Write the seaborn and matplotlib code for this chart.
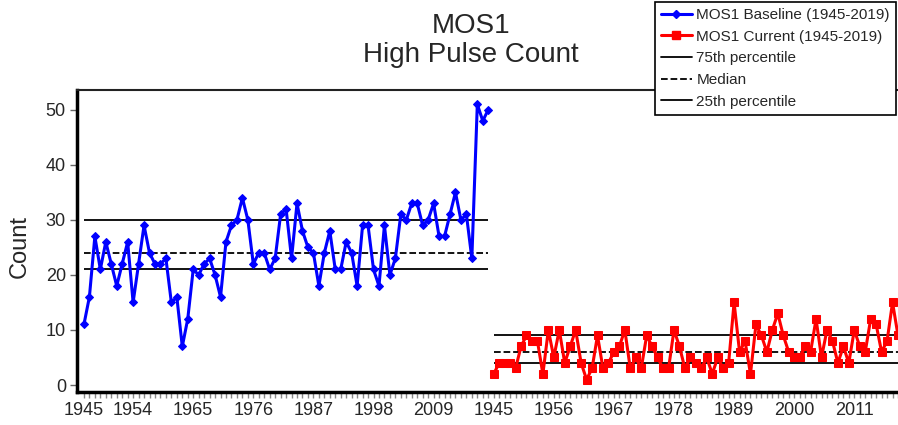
import matplotlib
matplotlib.use("Agg")
import matplotlib.pyplot as plt
import seaborn as sns
import pandas as pd
from matplotlib.lines import Line2D

sns.set_theme(style="white")
plt.rcParams['font.family'] = ['Liberation Sans', 'DejaVu Sans']

# ---- data ----
years = list(range(1945, 2020))
baseline = [11, 16, 27, 21, 26, 22, 18, 22, 26, 15,
            22, 29, 24, 22, 22, 23, 15, 16, 7, 12,
            21, 20, 22, 23, 20, 16, 26, 29, 30, 34,
            30, 22, 24, 24, 21, 23, 31,
            32, 23, 33, 28, 25, 24, 18, 24, 28, 21,
            21, 26, 24, 18, 29, 29, 21, 18, 29, 20,
            23, 31, 30, 33, 33, 29, 30, 33, 27, 27,
            31, 35, 30, 31, 23, 51, 48, 50]
current = [2, 4, 4, 4, 3, 7, 9, 8, 8, 2,
           10, 5, 10, 4, 7, 10, 4, 1, 3, 9,
           3, 4, 6, 7, 10, 3, 5, 3, 9, 7,
           5, 3, 3, 10, 7,
           3, 5, 4, 3, 5, 2, 5, 3, 4, 15,
           6, 8, 2, 11, 9, 6, 10, 13, 9, 6,
           5, 5, 7, 6, 12, 5, 10, 8, 4, 7,
           4, 10, 7, 6, 12, 11, 6, 8, 15, 9]
baseline_pct = [30, 24, 21]   # 75th, median, 25th
current_pct = [9, 6, 4]
tick_years_base = [1945, 1954, 1965, 1976, 1987, 1998, 2009]
tick_years_curr = [1945, 1956, 1967, 1978, 1989, 2000, 2011]
series_names = ["MOS1 Baseline (1945-2019)", "MOS1 Current (1945-2019)"]

n = len(years)
df_b = pd.DataFrame({"x": range(n), "Count": baseline})
df_c = pd.DataFrame({"x": range(n, 2 * n), "Count": current})

fig = plt.figure(figsize=(8.98, 4.25), dpi=100)
ax = fig.add_axes([77 / 898, 33 / 425, 821 / 898, 302 / 425])

sns.lineplot(data=df_b, x="x", y="Count", ax=ax, color="#0000FF", lw=2.2,
             marker="D", markersize=4.5, markeredgecolor="#0000FF")
sns.lineplot(data=df_c, x="x", y="Count", ax=ax, color="#FF0000", lw=2.2,
             marker="s", markersize=5.5, markeredgecolor="#FF0000")

styles = ["-", "--", "-"]
for v, ls in zip(baseline_pct, styles):
    ax.hlines(v, 0, n - 1, colors="black", linestyles=ls, lw=1.3, zorder=1)
for v, ls in zip(current_pct, styles):
    ax.hlines(v, n, 2 * n + 5, colors="black", linestyles=ls, lw=1.3, zorder=1)

ax.set_xlim(-1.27, 148.0)
ax.set_ylim(-1.27, 53.6)

pos = [years.index(y) for y in tick_years_base] + [n + years.index(y) for y in tick_years_curr]
labs = [str(y) for y in tick_years_base] + [str(y) for y in tick_years_curr]
ax.set_xticks(pos)
ax.set_xticklabels(labs, fontsize=13)
ax.set_xticks(range(2 * n), minor=True)
ax.tick_params(axis="x", which="both", bottom=True, length=4, width=1, color="#888888", pad=3)
ax.set_yticks([0, 10, 20, 30, 40, 50])
ax.tick_params(axis="y", left=True, length=5, width=1, color="#666666", labelsize=13, pad=3)
ax.set_xlabel("")
ax.set_ylabel("")

for s in ["left", "bottom"]:
    ax.spines[s].set_linewidth(2.5)
    ax.spines[s].set_color("black")
ax.spines["top"].set_linewidth(1.5)
ax.spines["top"].set_color("#222222")
ax.spines["right"].set_visible(False)

fig.text(20 / 898, 1 - 247 / 425, "Count", rotation=90, ha="center", va="center", fontsize=17)
fig.text(471 / 898, 1 - 13 / 425, "MOS1\nHigh Pulse Count", ha="center", va="top",
         fontsize=20, linespacing=1.15)

handles = [
    Line2D([], [], color="#0000FF", lw=2.2, marker="D", markersize=4.5),
    Line2D([], [], color="#FF0000", lw=2.2, marker="s", markersize=5.5),
    Line2D([], [], color="black", lw=1.3, ls="-"),
    Line2D([], [], color="black", lw=1.3, ls="--"),
    Line2D([], [], color="black", lw=1.3, ls="-"),
]
labels = series_names + ["75th percentile", "Median", "25th percentile"]
leg = fig.legend(handles, labels, loc="upper left", bbox_to_anchor=(655 / 898, 1 - 2 / 425),
                 fontsize=11, frameon=True, fancybox=False, edgecolor="black", framealpha=1,
                 handlelength=2.0, handletextpad=0.3, labelspacing=0.5, borderpad=0.4,
                 borderaxespad=0)
leg.get_frame().set_linewidth(1.2)

fig.savefig("out.png", dpi=100)
